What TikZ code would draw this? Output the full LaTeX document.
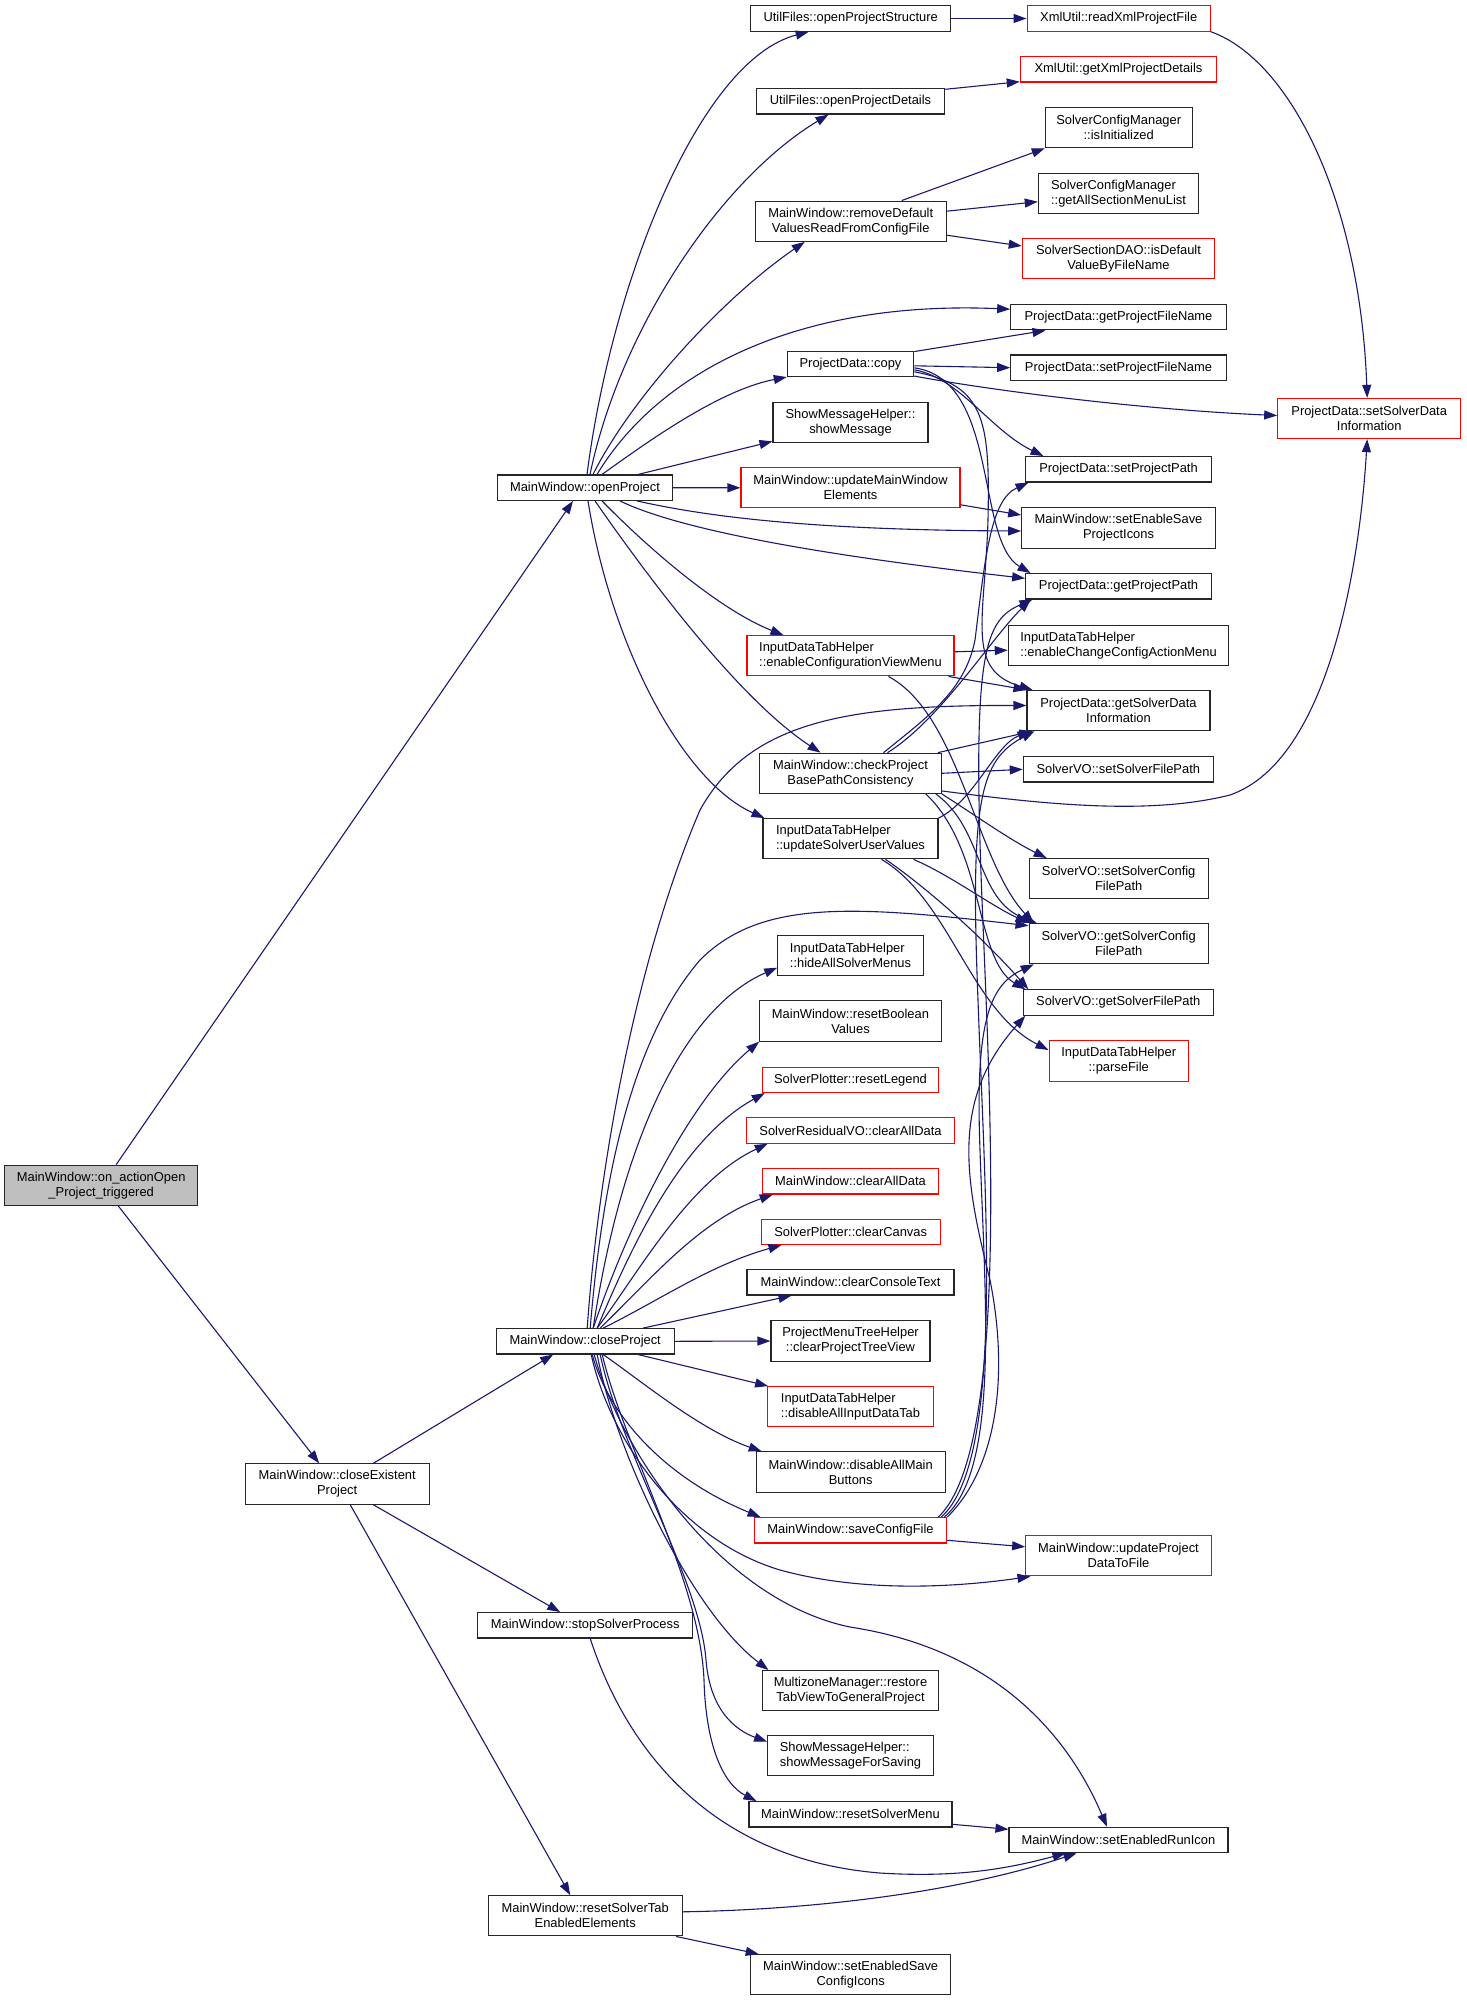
\documentclass[tikz,border=0pt]{standalone}
\usepackage{fontspec}
\setmainfont{Liberation Sans}
\usetikzlibrary{arrows.meta,calc}
\definecolor{navyc}{HTML}{191970}
\definecolor{rootgray}{HTML}{BFBFBF}
\newcommand\dxfont{\fontsize{12.9}{15}\selectfont}
\tikzset{
  box/.style={draw=black!85, line width=1.1pt, fill=white, inner sep=0pt, align=center, font=\dxfont, text=black, minimum height=25.4pt},
  box2/.style={box, minimum height=40.2pt},
  lft/.style={align=left},
  redb/.style={draw=red},
  edg/.style={draw=navyc, line width=1.1pt, -{Triangle[length=13pt,width=9pt]}}
}
\begin{document}
\begin{tikzpicture}[x=1pt,y=-1pt]
\useasboundingbox (0,0) rectangle (1467,2000);
% ---------- column 0/1 ----------
\node[box2, fill=rootgray, minimum width=193pt] (r) at (101.2,1185.2) {MainWindow::on\_actionOpen\\\_Project\_triggered};
\node[box, minimum width=174.6pt] (op) at (585,487.7) {MainWindow::openProject};
\node[box2, minimum width=184.3pt] (cep) at (337.2,1484) {MainWindow::closeExistent\\Project};
\node[box, minimum width=177.7pt] (cp) at (585.2,1341.3) {MainWindow::closeProject};
\node[box, minimum width=215pt] (ssp) at (585.2,1625.3) {MainWindow::stopSolverProcess};
\node[box2, minimum width=193.7pt] (rste) at (585.2,1915.8) {MainWindow::resetSolverTab\\EnabledElements};
% ---------- column 2 ----------
\node[box, minimum width=200pt] (ops) at (850.7,18.5) {UtilFiles::openProjectStructure};
\node[box, minimum width=188.4pt] (opd) at (850.5,101.3) {UtilFiles::openProjectDetails};
\node[box2, minimum width=190.7pt] (rdv) at (850.7,221.2) {MainWindow::removeDefault\\ValuesReadFromConfigFile};
\node[box, minimum width=126.4pt] (pdc) at (850.5,363.8) {ProjectData::copy};
\node[box2, minimum width=155pt] (smh) at (850.5,422.7) {ShowMessageHelper::\\showMessage};
\node[box2, redb, minimum width=219pt] (umw) at (850.5,487.8) {MainWindow::updateMainWindow\\Elements};
\node[box2, redb, lft, minimum width=207pt] (ecvm) at (850.5,655.8) {InputDataTabHelper\\::enableConfigurationViewMenu};
\node[box2, minimum width=181.6pt] (cpb) at (850.5,773.3) {MainWindow::checkProject\\BasePathConsistency};
\node[box2, lft, minimum width=175pt] (usv) at (850.5,838.7) {InputDataTabHelper\\::updateSolverUserValues};
\node[box2, lft, minimum width=145.6pt] (hasm) at (850.5,955.7) {InputDataTabHelper\\::hideAllSolverMenus};
\node[box2, minimum width=181.6pt] (rbv) at (850.5,1021) {MainWindow::resetBoolean\\Values};
\node[box, redb, minimum width=176.4pt] (rl) at (850.5,1079.8) {SolverPlotter::resetLegend};
\node[box, redb, minimum width=208.4pt] (srcad) at (850.5,1130.5) {SolverResidualVO::clearAllData};
\node[box, redb, minimum width=176.4pt] (mwcad) at (850.5,1181.3) {MainWindow::clearAllData};
\node[box, redb, minimum width=179.3pt] (cc) at (850.7,1231.8) {SolverPlotter::clearCanvas};
\node[box, minimum width=207pt] (cct) at (850.5,1282.3) {MainWindow::clearConsoleText};
\node[box2, minimum width=159pt] (cptv) at (850.5,1341) {ProjectMenuTreeHelper\\::clearProjectTreeView};
\node[box2, redb, lft, minimum width=165.6pt] (daidt) at (850.5,1406.7) {InputDataTabHelper\\::disableAllInputDataTab};
\node[box2, minimum width=189.3pt] (damb) at (850.7,1472) {MainWindow::disableAllMain\\Buttons};
\node[box, redb, minimum width=192.4pt] (scf) at (850.5,1530.3) {MainWindow::saveConfigFile};
\node[box2, minimum width=176.4pt] (mz) at (850.5,1690.7) {MultizoneManager::restore\\TabViewToGeneralProject};
\node[box2, lft, minimum width=165.6pt] (smfs) at (850.5,1755.7) {ShowMessageHelper::\\showMessageForSaving};
\node[box, minimum width=203pt] (rsm) at (850.5,1814.3) {MainWindow::resetSolverMenu};
\node[box2, minimum width=200pt] (sesci) at (850.7,1974.7) {MainWindow::setEnabledSave\\ConfigIcons};
% ---------- column 3 ----------
\node[box, redb, minimum width=183.3pt] (rxpf) at (1118.7,18.5) {XmlUtil::readXmlProjectFile};
\node[box, redb, minimum width=196.4pt] (gxpd) at (1118.5,69.3) {XmlUtil::getXmlProjectDetails};
\node[box2, minimum width=146.7pt] (scmi) at (1118.7,127.7) {SolverConfigManager\\::isInitialized};
\node[box2, lft, minimum width=160.4pt] (scmg) at (1118.5,193.2) {SolverConfigManager\\::getAllSectionMenuList};
\node[box2, redb, minimum width=192.4pt] (ssdao) at (1118.5,258.5) {SolverSectionDAO::isDefault\\ValueByFileName};
\node[box, minimum width=215.6pt] (gpfn) at (1118.5,317.2) {ProjectData::getProjectFileName};
\node[box, minimum width=215.6pt] (spfn) at (1118.5,367.7) {ProjectData::setProjectFileName};
\node[box, minimum width=185.6pt] (spp) at (1118.5,469.3) {ProjectData::setProjectPath};
\node[box2, minimum width=193.6pt] (sespi) at (1118.5,528) {MainWindow::setEnableSave\\ProjectIcons};
\node[box, minimum width=185.6pt] (gpp) at (1118.5,586.3) {ProjectData::getProjectPath};
\node[box2, lft, minimum width=220.4pt] (eccam) at (1118.5,645.2) {InputDataTabHelper\\::enableChangeConfigActionMenu};
\node[box2, minimum width=183pt] (gsdi) at (1118.5,710.5) {ProjectData::getSolverData\\Information};
\node[box, minimum width=190pt] (ssfp) at (1118.3,769.3) {SolverVO::setSolverFilePath};
\node[box2, minimum width=179.3pt] (sscfp) at (1118.7,878.7) {SolverVO::setSolverConfig\\FilePath};
\node[box2, minimum width=179.3pt] (gscfp) at (1118.7,943.7) {SolverVO::getSolverConfig\\FilePath};
\node[box, minimum width=190pt] (gsfp) at (1118.3,1002.5) {SolverVO::getSolverFilePath};
\node[box2, redb, minimum width=139.3pt] (pf) at (1118.7,1061) {InputDataTabHelper\\::parseFile};
\node[box2, redb, minimum width=185.6pt] (updtf) at (1118.5,1555.8) {MainWindow::updateProject\\DataToFile};
\node[box, minimum width=219pt] (seri) at (1118.5,1840) {MainWindow::setEnabledRunIcon};
% ---------- column 4 ----------
\node[box2, redb, minimum width=183pt] (ssdi) at (1369.2,418.5) {ProjectData::setSolverData\\Information};
% ================= edges =================
% root
\draw[edg] ($(r.north)+(15,0)$) -- ($(op.south)+(-12,0)$);
\draw[edg] ($(r.south)+(17,0)$) -- ($(cep.north)+(-18,0)$);
% closeExistentProject
\draw[edg] ($(cep.north)+(36,0)$) -- ($(cp.south)+(-32,0)$);
\draw[edg] ($(cep.south)+(36,0)$) -- ($(ssp.north)+(-25,0)$);
\draw[edg] ($(cep.south)+(13,0)$) -- ($(rste.north)+(-15,0)$);
% openProject
\draw[edg] ($(op.north)+(2,0)$) .. controls (612,280) and (700,60) .. ($(ops.south)+(-42,0)$);
\draw[edg] ($(op.north)+(5,0)$) .. controls (620,330) and (720,180) .. ($(opd.south)+(-22,0)$);
\draw[edg] ($(op.north)+(8,0)$) .. controls (630,400) and (720,300) .. ($(rdv.south)+(-46,0)$);
\draw[edg] ($(op.north)+(12,0)$) .. controls (660,370) and (800,300) .. ($(gpfn.west)+(0,-8)$);
\draw[edg] ($(op.north)+(17,0)$) .. controls (650,440) and (720,390) .. (pdc.south west);
\draw[edg] ($(op.north)+(53,0)$) -- ($(smh.south west)+(0,-2)$);
\draw[edg] (op.east) -- (umw.west);
\draw[edg] ($(op.south)+(52,0)$) .. controls (700,515) and (800,530) .. ($(sespi.west)+(0,3)$);
\draw[edg] ($(op.south)+(35,0)$) .. controls (680,530) and (820,555) .. ($(gpp.west)+(0,-8)$);
\draw[edg] ($(op.south)+(17,0)$) .. controls (650,550) and (720,610) .. ($(ecvm.north)+(-67,0)$);
\draw[edg] ($(op.south)+(10,0)$) .. controls (650,580) and (740,700) .. ($(cpb.north)+(-30,0)$);
\draw[edg] ($(op.south)+(3,0)$) .. controls (610,640) and (680,780) .. ($(usv.north west)+(2,0)$);
% ProjectData::copy
\draw[edg] ($(pdc.north east)+(0,1)$) -- ($(gpfn.south)+(-73,0)$);
\draw[edg] ($(pdc.east)+(0,2)$) -- (spfn.west);
\draw[edg] ($(pdc.south east)+(0,-1)$) .. controls (1000,392) and (1150,410) .. ($(ssdi.west)+(0,-3)$);
\draw[edg] ($(pdc.east)+(0,6)$) .. controls (960,378) and (990,430) .. ($(spp.north)+(-75,0)$);
\draw[edg] ($(pdc.east)+(0,4)$) .. controls (1000,380) and (975,540) .. ($(gpp.north)+(-88,0)$);
\draw[edg] ($(pdc.east)+(0,8)$) .. controls (985,385) and (990,420) .. (988,520) .. controls (985,620) and (965,670) .. ($(gsdi.north)+(-86,0)$);
% others in the upper part
\draw[edg] ($(umw.east)+(0,17)$) -- ($(sespi.west)+(0,-13)$);
\draw[edg] ($(rdv.north)+(51,0)$) -- (scmi.south west);
\draw[edg] ($(rdv.east)+(0,-10)$) -- ($(scmg.west)+(0,8.5)$);
\draw[edg] ($(rdv.east)+(0,14)$) -- ($(ssdao.west)+(0,-12.5)$);
\draw[edg] (ops.east) -- (rxpf.west);
\draw[edg] ($(opd.east)+(0,-12)$) -- ($(gxpd.west)+(0,12.4)$);
\draw[edg] (rxpf.south east) .. controls (1290,60) and (1360,200) .. ($(ssdi.north)+(-2,0)$);
% enableConfigurationViewMenu
\draw[edg] ($(ecvm.east)+(0,-4)$) -- ($(eccam.west)+(0,5)$);
\draw[edg] ($(ecvm.south east)+(-6,0)$) -- (gsdi.north west);
\draw[edg] ($(ecvm.south)+(38,0)$) .. controls (960,715) and (975,860) .. ($(gscfp.north)+(-85,0)$);
% checkProjectBasePathConsistency
\draw[edg] ($(cpb.north)+(33,0)$) .. controls (930,715) and (965,690) .. (975,640) .. controls (985,560) and (990,500) .. ($(spp.south)+(-90,0)$);
\draw[edg] ($(cpb.north)+(37,0)$) .. controls (940,720) and (990,640) .. ($(gpp.south)+(-88,0)$);
\draw[edg] ($(cpb.north east)+(-4,0)$) -- ($(gsdi.south)+(-86,0)$);
\draw[edg] (cpb.east) -- (ssfp.west);
\draw[edg] ($(cpb.south east)+(0,-3)$) .. controls (1050,805) and (1150,815) .. (1230,795) .. controls (1330,760) and (1360,560) .. ($(ssdi.south)+(-2,0)$);
\draw[edg] (cpb.south east) .. controls (975,815) and (1010,840) .. ($(sscfp.north)+(-72,0)$);
\draw[edg] ($(cpb.south east)+(-6,0)$) .. controls (985,830) and (975,900) .. ($(gscfp.north)+(-82,0)$);
\draw[edg] ($(cpb.south east)+(-16,0)$) .. controls (985,850) and (975,960) .. ($(gsfp.north)+(-93,0)$);
% updateSolverUserValues
\draw[edg] (usv.north east) .. controls (975,800) and (995,745) .. ($(gsdi.south)+(-88,0)$);
\draw[edg] ($(usv.south)+(63,0)$) .. controls (950,875) and (990,905) .. (gscfp.north west);
\draw[edg] ($(usv.south)+(35,0)$) .. controls (930,890) and (985,940) .. ($(gsfp.north)+(-90,0)$);
\draw[edg] ($(usv.south)+(31,0)$) .. controls (950,900) and (970,1010) .. ($(pf.west)+(0,-11)$);
% closeProject, upward fan
\draw[edg] ($(cp.north)+(2,0)$) .. controls (600,1150) and (640,950) .. (700,810) .. controls (750,720) and (850,705) .. ($(gsdi.west)+(0,-5)$);
\draw[edg] ($(cp.north)+(5,0)$) .. controls (605,1150) and (640,1030) .. (700,960) .. controls (760,900) and (850,905) .. ($(gscfp.west)+(0,-18)$);
\draw[edg] ($(cp.north)+(8,0)$) .. controls (620,1150) and (680,1010) .. ($(hasm.west)+(0,12)$);
\draw[edg] ($(cp.north)+(8,0)$) .. controls (630,1220) and (690,1100) .. (rbv.south west);
\draw[edg] ($(cp.north)+(12,0)$) .. controls (630,1250) and (680,1140) .. ($(rl.south west)+(3,0)$);
\draw[edg] ($(cp.north)+(12,0)$) .. controls (640,1270) and (690,1180) .. ($(srcad.south west)+(22,0)$);
\draw[edg] ($(cp.north)+(15,0)$) .. controls (650,1280) and (700,1220) .. ($(mwcad.south west)+(11,0)$);
\draw[edg] ($(cp.north)+(18,0)$) .. controls (660,1300) and (710,1265) .. ($(cc.south west)+(21,0)$);
\draw[edg] ($(cp.north)+(58,0)$) -- ($(cct.south)+(-59,0)$);
\draw[edg] (cp.east) -- (cptv.west);
% closeProject, downward fan
\draw[edg] ($(cp.south)+(53,0)$) -- ($(daidt.north west)+(1,0)$);
\draw[edg] ($(cp.south)+(18,0)$) .. controls (640,1380) and (700,1430) .. ($(damb.north)+(-89,0)$);
\draw[edg] ($(cp.south)+(7,0)$) .. controls (610,1420) and (670,1480) .. ($(scf.north)+(-90,0)$);
\draw[edg] ($(cp.south)+(6,0)$) .. controls (610,1440) and (680,1540) .. (780,1570) .. controls (860,1592) and (950,1588) .. ($(updtf.south)+(-88,0)$);
\draw[edg] ($(cp.south)+(9,0)$) .. controls (620,1450) and (720,1600) .. (850,1627) .. controls (1000,1650) and (1070,1740) .. ($(seri.north)+(-11.5,0)$);
\draw[edg] ($(cp.south)+(12,0)$) .. controls (615,1450) and (690,1610) .. ($(mz.north)+(-82,0)$);
\draw[edg] ($(cp.south)+(15,0)$) .. controls (620,1450) and (700,1580) .. (706,1660) .. controls (710,1710) and (735,1730) .. ($(smfs.west)+(0,-14)$);
\draw[edg] ($(cp.south)+(17,0)$) .. controls (625,1450) and (700,1580) .. (704,1680) .. controls (706,1750) and (725,1785) .. ($(rsm.north)+(-94,0)$);
% saveConfigFile
\draw[edg] ($(scf.east)+(0,10)$) -- ($(updtf.west)+(0,-9)$);
\draw[edg] (scf.north east) .. controls (995,1470) and (1010,1380) .. (990,1280) .. controls (965,1180) and (950,1100) .. ($(gsfp.south)+(-93,0)$);
\draw[edg] ($(scf.north east)+(-3,0)$) .. controls (1000,1470) and (985,1300) .. (980,1150) .. controls (975,1020) and (990,985) .. ($(gscfp.south)+(-85,0)$);
\draw[edg] ($(scf.north east)+(-6,0)$) .. controls (1005,1460) and (985,1200) .. (978,1000) .. controls (970,800) and (980,760) .. ($(gsdi.south)+(-84,0)$);
\draw[edg] ($(scf.north east)+(-9,0)$) .. controls (1010,1450) and (990,1100) .. (982,900) .. controls (972,650) and (985,620) .. ($(gpp.south)+(-86,0)$);
% lower part
\draw[edg] ($(ssp.south)+(5,0)$) .. controls (630,1760) and (720,1860) .. (880,1873) .. controls (960,1878) and (1010,1868) .. ($(seri.south)+(-53,0)$);
\draw[edg] ($(rsm.east)+(0,10)$) -- ($(seri.west)+(0,-10.7)$);
\draw[edg] ($(rste.east)+(0,-4)$) .. controls (800,1910) and (950,1895) .. ($(seri.south)+(-42,0)$);
\draw[edg] ($(rste.south)+(91,0)$) -- ($(sesci.north)+(-92,0)$);
\end{tikzpicture}
\end{document}
